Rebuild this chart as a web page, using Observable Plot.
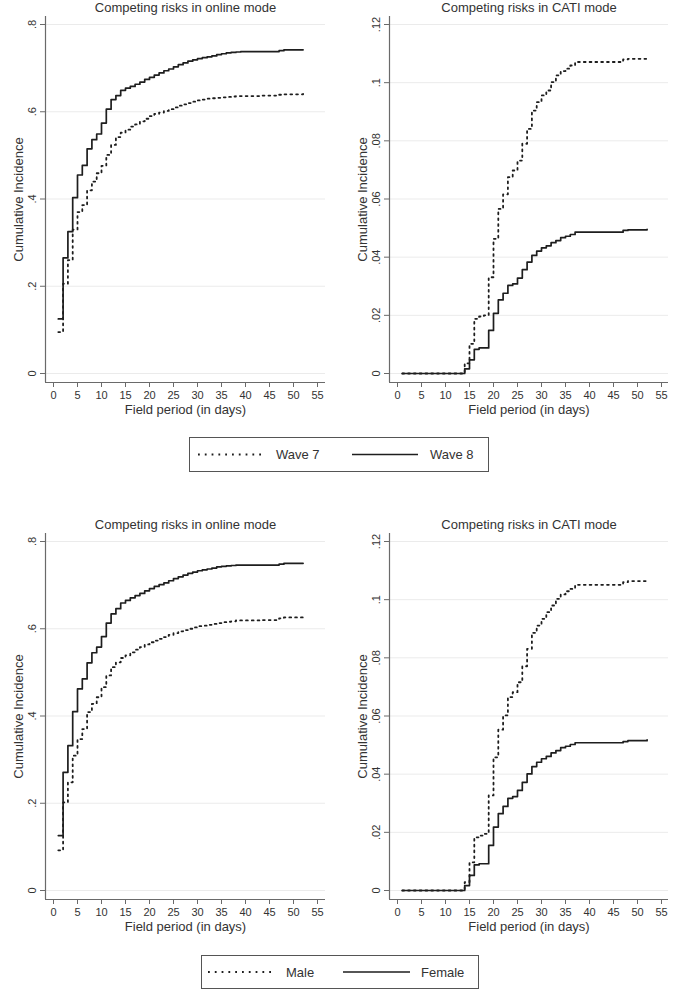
<!DOCTYPE html>
<html>
<head>
<meta charset="utf-8">
<script src="https://cdn.jsdelivr.net/npm/d3@7"></script>
<script src="https://cdn.jsdelivr.net/npm/@observablehq/plot@0.6"></script>
<style>
html,body{margin:0;padding:0;background:#fff;}
#root{position:relative;width:685px;height:990px;overflow:hidden;background:#fff;font-family:"Liberation Sans",Arial,Helvetica,sans-serif;}
.panel{position:absolute;}
.legend{position:absolute;}
</style>
</head>
<body>
<div id="root"></div>
<script>
// ---------- data ----------
const days = [1,2,3,4,5,6,7,8,9,10,11,12,13,14,15,16,17,18,19,20,21,22,23,24,25,26,27,28,29,30,31,32,33,34,35,36,37,38,39,40,41,42,43,44,45,46,47,48,49,50,51,52];
const xTicks = [0,5,10,15,20,25,30,35,40,45,50,55];

const onlineTicks = [0,0.2,0.4,0.6,0.8];
const onlineTickLabels = ["0",".2",".4",".6",".8"];
const catiTicks = [0,0.02,0.04,0.06,0.08,0.1,0.12];
const catiTickLabels = ["0",".02",".04",".06",".08",".1",".12"];

const panelTitles = ["Competing risks in online mode","Competing risks in CATI mode"];
const xTitle = "Field period (in days)";
const yTitle = "Cumulative Incidence";
const waveNames = ["Wave 7","Wave 8"];
const sexNames = ["Male","Female"];

const onlineWave7 = [0.095,0.206,0.260,0.330,0.370,0.386,0.420,0.440,0.459,0.476,
  0.501,0.524,0.542,0.552,0.559,0.566,0.571,0.578,0.584,0.590,
  0.595,0.598,0.602,0.606,0.610,0.614,0.617,0.620,0.623,0.626,
  0.628,0.630,0.631,0.632,0.633,0.634,0.635,0.636,0.636,0.636,
  0.636,0.636,0.637,0.637,0.637,0.637,0.639,0.640,0.640,0.640,
  0.640,0.641];
const onlineWave8 = [0.125,0.265,0.325,0.403,0.455,0.477,0.515,0.536,0.549,0.574,
  0.606,0.628,0.637,0.649,0.654,0.658,0.663,0.668,0.674,0.679,
  0.684,0.689,0.694,0.698,0.703,0.708,0.712,0.716,0.719,0.722,
  0.724,0.726,0.728,0.731,0.733,0.735,0.736,0.737,0.738,0.738,
  0.738,0.738,0.738,0.738,0.738,0.738,0.740,0.742,0.742,0.742,
  0.742,0.742];
const catiWave7 = [0,0,0,0,0,0,0,0,0,0,
  0,0,0,0.0035,0.0102,0.0188,0.0196,0.0200,0.0331,0.0463,
  0.0566,0.0616,0.0675,0.0698,0.0732,0.0790,0.0841,0.0904,0.0933,0.0956,
  0.0973,0.1002,0.1025,0.1040,0.1048,0.1059,0.1071,0.1071,0.1071,0.1071,
  0.1071,0.1071,0.1071,0.1071,0.1071,0.1071,0.1080,0.1082,0.1082,0.1082,
  0.1082,0.1090];
const catiWave8 = [0,0,0,0,0,0,0,0,0,0,
  0,0,0,0.0016,0.0047,0.0083,0.0088,0.0088,0.0148,0.0207,
  0.0253,0.0276,0.0303,0.0308,0.0328,0.0357,0.0383,0.0406,0.0421,0.0432,
  0.0439,0.0450,0.0457,0.0467,0.0472,0.0478,0.0486,0.0486,0.0486,0.0486,
  0.0486,0.0486,0.0486,0.0486,0.0486,0.0486,0.0492,0.0494,0.0494,0.0494,
  0.0494,0.0496];
const onlineMale = [0.092,0.202,0.248,0.309,0.347,0.370,0.409,0.428,0.443,0.466,
  0.493,0.512,0.523,0.533,0.539,0.546,0.552,0.558,0.564,0.569,
  0.573,0.577,0.581,0.586,0.590,0.594,0.597,0.600,0.603,0.606,
  0.607,0.609,0.611,0.613,0.615,0.616,0.617,0.619,0.619,0.619,
  0.619,0.619,0.620,0.620,0.620,0.620,0.624,0.626,0.626,0.626,
  0.626,0.629];
const onlineFemale = [0.126,0.271,0.332,0.410,0.462,0.485,0.522,0.545,0.558,0.582,
  0.613,0.634,0.646,0.659,0.665,0.671,0.676,0.681,0.687,0.692,
  0.697,0.701,0.705,0.710,0.715,0.719,0.723,0.727,0.730,0.733,
  0.735,0.737,0.739,0.742,0.743,0.744,0.745,0.746,0.746,0.746,
  0.746,0.746,0.746,0.746,0.746,0.746,0.748,0.750,0.750,0.750,
  0.750,0.750];
const catiMale = [0,0,0,0,0,0,0,0,0,0,
  0,0,0,0.0029,0.0097,0.0183,0.0189,0.0195,0.0327,0.0458,
  0.0553,0.0602,0.0665,0.0682,0.0716,0.0771,0.0831,0.0886,0.0911,0.0934,
  0.0957,0.0980,0.1003,0.1018,0.1029,0.1037,0.1051,0.1051,0.1051,0.1051,
  0.1051,0.1051,0.1051,0.1051,0.1051,0.1051,0.1060,0.1064,0.1064,0.1064,
  0.1064,0.1070];
const catiFemale = [0,0,0,0,0,0,0,0,0,0,
  0,0,0,0.0017,0.0052,0.0088,0.0092,0.0092,0.0155,0.0218,
  0.0264,0.0289,0.0317,0.0323,0.0344,0.0372,0.0401,0.0426,0.0441,0.0453,
  0.0461,0.0473,0.0481,0.0491,0.0496,0.0502,0.0508,0.0508,0.0508,0.0508,
  0.0508,0.0508,0.0508,0.0508,0.0508,0.0508,0.0512,0.0515,0.0515,0.0515,
  0.0515,0.0518];

// ---------- styling ----------
const FONT = "'Liberation Sans', Arial, Helvetica, sans-serif";
const LINE = "#1e1e1e";
const AXIS = "#6a6a6a";
const TEXT = "#333";
const GRID = "#ebebeb";
const DOT = "1.8,4";

const root = document.getElementById("root");

function panel({title, left, top, width, marginLeft, yMax, yTicks, yLabels, dotted, solid}) {
  const marginRight = 17, marginTop = 16, marginBottom = 38, height = 420;
  const pxPerDay = 4.8;
  const plotW = width - marginLeft - marginRight;
  const x0 = -8 / pxPerDay;
  const xDomain = [x0, x0 + plotW / pxPerDay];
  const plotH = height - marginTop - marginBottom;
  const k = (plotH - 17) / yMax;
  const yDomain = [-9 / k, yMax + 8 / k];
  const labelMap = new Map(yTicks.map((t, i) => [t, yLabels[i]]));

  const svg = Plot.plot({
    width, height, marginLeft, marginRight, marginTop, marginBottom,
    x: {domain: xDomain},
    y: {domain: yDomain},
    style: {fontFamily: FONT, fontSize: "11px", color: TEXT, background: "transparent", overflow: "visible"},
    marks: [
      Plot.gridY(yTicks, {stroke: GRID, strokeOpacity: 1, strokeWidth: 1}),
      Plot.ruleX([xDomain[0]], {stroke: AXIS, strokeWidth: 1.2}),
      Plot.ruleY([yDomain[0]], {stroke: AXIS, strokeWidth: 1.2}),
      Plot.axisY({ticks: yTicks, tickSize: 5, tickFormat: () => "", stroke: AXIS, label: null}),
      Plot.text(yTicks, {x: xDomain[0], y: d => d, text: d => labelMap.get(d), rotate: -90, dx: -13,
        textAnchor: "middle", lineAnchor: "middle", fill: TEXT, fontSize: 11}),
      Plot.axisX({ticks: xTicks, tickSize: 5, tickPadding: 4, stroke: AXIS, fill: TEXT, label: null, fontSize: 11}),
      Plot.line(days, {x: d => d, y: (d, i) => dotted[i], curve: "step-after", stroke: LINE, strokeWidth: 1.8, strokeDasharray: DOT}),
      Plot.line(days, {x: d => d, y: (d, i) => solid[i], curve: "step-after", stroke: LINE, strokeWidth: 1.7}),
      Plot.text([title], {text: d => d, frameAnchor: "top", dy: -9, lineAnchor: "middle", fontSize: 13, fill: TEXT}),
      Plot.text([yTitle], {text: d => d, frameAnchor: "left", dx: -27, rotate: -90, lineAnchor: "middle", textAnchor: "middle", fontSize: 13, fill: TEXT}),
      Plot.text([xTitle], {text: d => d, frameAnchor: "bottom", dy: 27, lineAnchor: "middle", fontSize: 13, fill: TEXT})
    ]
  });
  const div = document.createElement("div");
  div.className = "panel";
  div.style.left = left + "px";
  div.style.top = top + "px";
  div.appendChild(svg);
  root.appendChild(div);
}

function legend({left, top, width, height, names, sampleX, textX}) {
  const div = d3.select(root).append("div").attr("class", "legend")
    .style("left", left + "px").style("top", top + "px");
  const svg = div.append("svg").attr("width", width).attr("height", height)
    .style("display", "block").style("font-family", FONT);
  svg.append("rect").attr("x", 0.5).attr("y", 0.5).attr("width", width - 1).attr("height", height - 1)
    .attr("fill", "#fff").attr("stroke", "#555").attr("stroke-width", 1);
  const cy = height / 2;
  names.forEach((name, i) => {
    svg.append("line").attr("x1", sampleX[i][0]).attr("x2", sampleX[i][1]).attr("y1", cy).attr("y2", cy)
      .attr("stroke", LINE).attr("stroke-width", i === 0 ? 1.8 : 1.7)
      .attr("stroke-dasharray", i === 0 ? "1.8,5" : null);
    svg.append("text").attr("x", textX[i]).attr("y", cy).attr("dy", "0.35em")
      .attr("font-size", 13).attr("fill", TEXT).text(name);
  });
}

// top row: Wave 7 / Wave 8
panel({title: panelTitles[0], left: 0, top: 0, width: 342, marginLeft: 45, yMax: 0.8,
  yTicks: onlineTicks, yLabels: onlineTickLabels, dotted: onlineWave7, solid: onlineWave8});
panel({title: panelTitles[1], left: 342, top: 0, width: 343, marginLeft: 47, yMax: 0.12,
  yTicks: catiTicks, yLabels: catiTickLabels, dotted: catiWave7, solid: catiWave8});
legend({left: 189, top: 437, width: 300, height: 35, names: waveNames,
  sampleX: [[9, 73], [163, 229]], textX: [87, 241]});

// bottom row: Male / Female
panel({title: panelTitles[0], left: 0, top: 517, width: 342, marginLeft: 45, yMax: 0.8,
  yTicks: onlineTicks, yLabels: onlineTickLabels, dotted: onlineMale, solid: onlineFemale});
panel({title: panelTitles[1], left: 342, top: 517, width: 343, marginLeft: 47, yMax: 0.12,
  yTicks: catiTicks, yLabels: catiTickLabels, dotted: catiMale, solid: catiFemale});
legend({left: 201, top: 955, width: 278, height: 34, names: sexNames,
  sampleX: [[7, 71], [142, 209]], textX: [85, 220]});
</script>
</body>
</html>
